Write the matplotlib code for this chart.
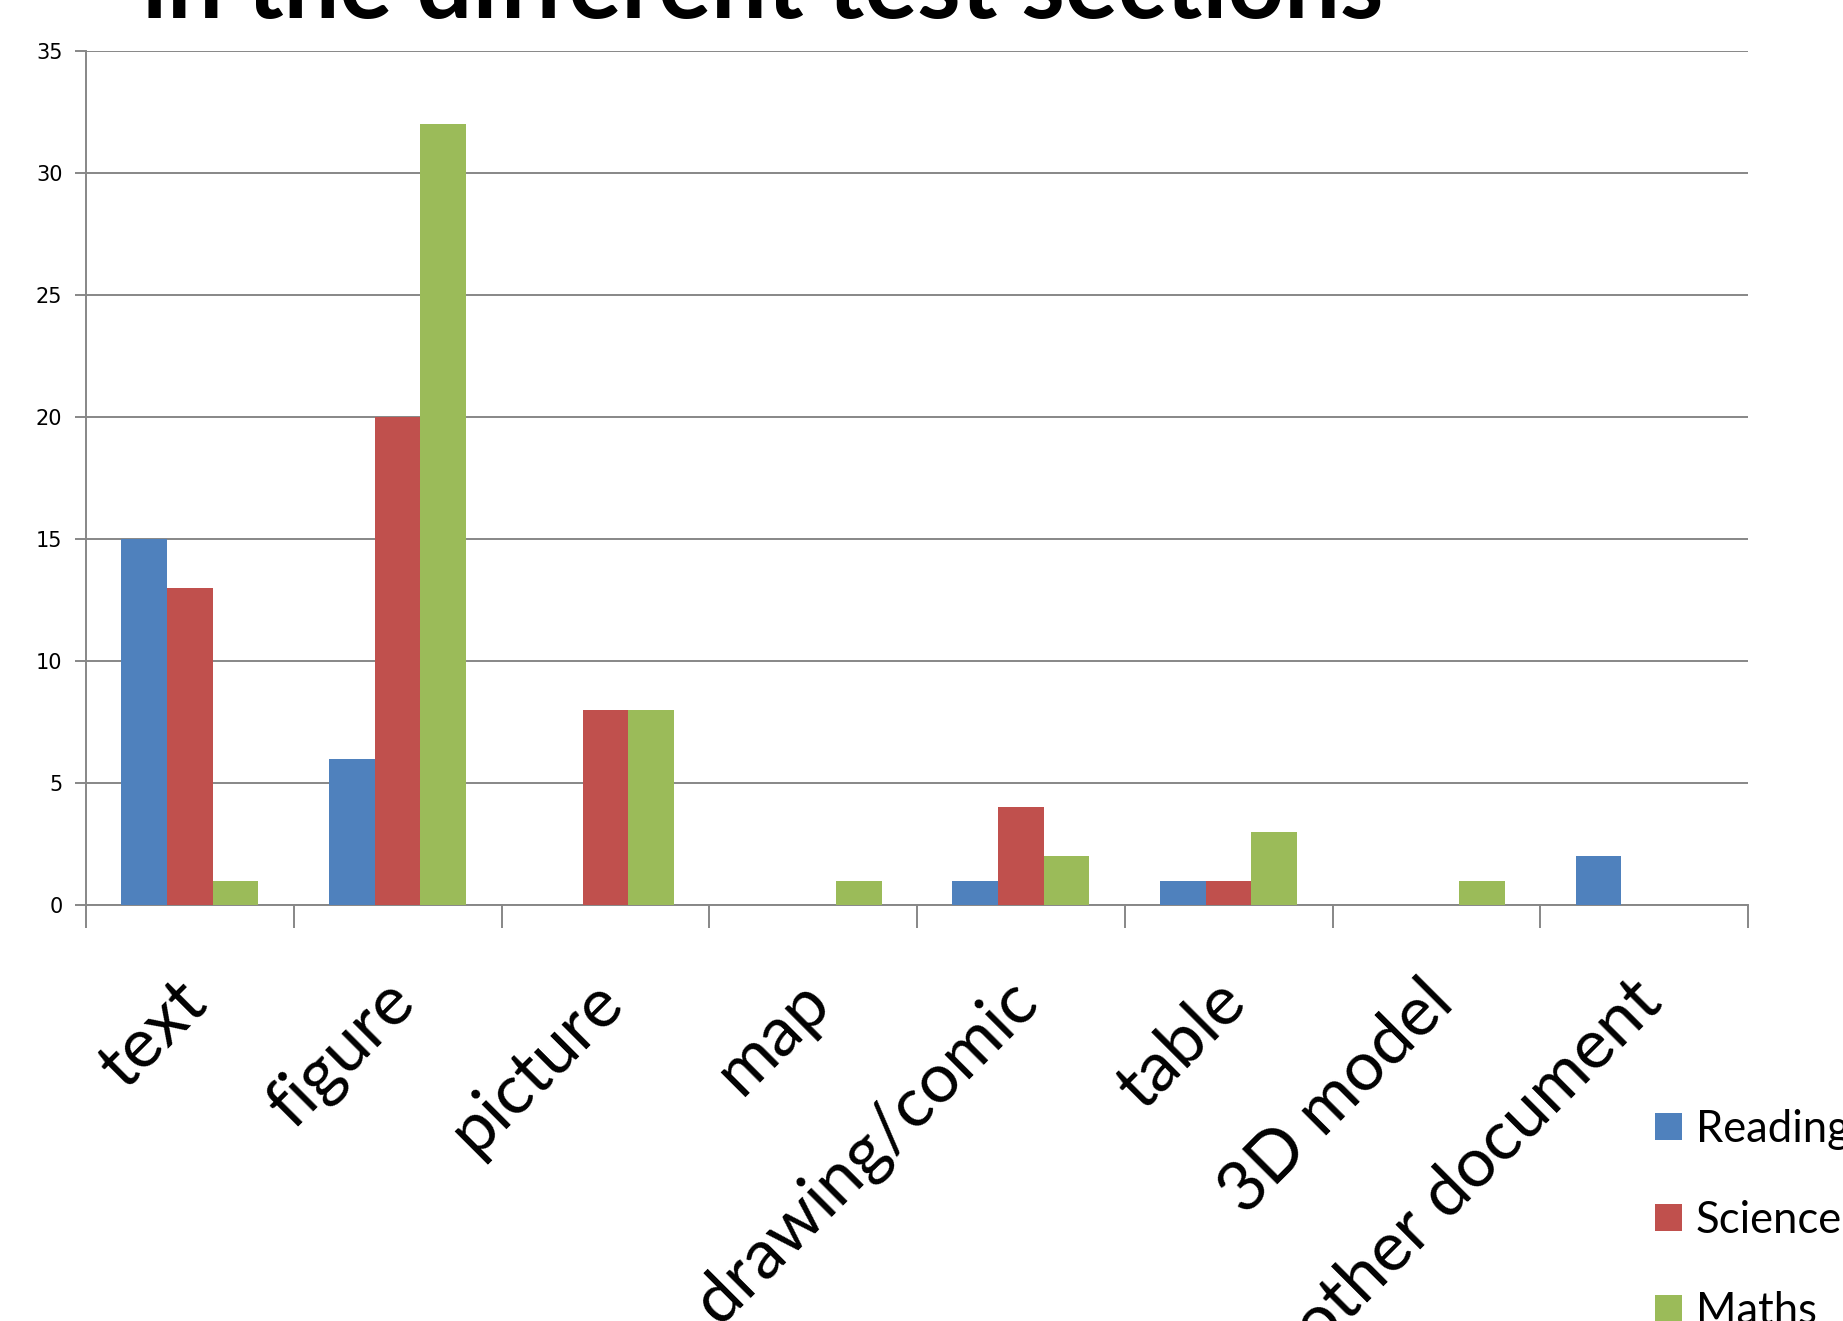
import numpy as np
import matplotlib
matplotlib.use("Agg")
import matplotlib.pyplot as plt
from matplotlib.patches import Rectangle
from matplotlib.transforms import ScaledTranslation

# ---- data ----
categories = ["text", "figure", "picture", "map", "drawing/comic", "table",
              "3D model", "other document"]
series_names = ["Reading", "Science", "Maths"]
reading = [15, 6, 0, 0, 1, 1, 0, 2]
science = [13, 20, 8, 0, 4, 1, 0, 0]
maths = [1, 32, 8, 1, 2, 3, 1, 0]
yticks = [0, 5, 10, 15, 20, 25, 30, 35]
title_text = "in the different test sections"

colors = ["#4F81BD", "#C0504D", "#9BBB59"]
GRAY = "#878787"
W, H = 1843, 1321
DPI = 100

fig = plt.figure(figsize=(W / DPI, H / DPI), dpi=DPI)
renderer = fig.canvas.get_renderer()
FONT = "Lato"


def fit_size(text, target_px, family, weight="normal"):
    t = fig.text(0, 0, text, fontsize=50, family=family, weight=weight)
    w = t.get_window_extent(renderer).width
    t.remove()
    return 50.0 * target_px / w


def fx(px):
    return px / W


def fy(py_from_top):
    return 1 - py_from_top / H


left, right, top, bottom = 86, 1748, 51, 905
ax = fig.add_axes([fx(left), fy(bottom), fx(right - left), (bottom - top) / H])

x = np.arange(len(categories))
bw = 0.22
for i, (vals, name) in enumerate(zip([reading, science, maths], series_names)):
    ax.bar(x + (i - 1) * bw, vals, width=bw, color=colors[i], label=name,
           zorder=3, linewidth=0)

ax.set_xlim(-0.5, len(categories) - 0.5)
ax.set_ylim(0, 35)
ax.set_yticks(yticks)
ax.set_yticklabels([str(v) for v in yticks], family="DejaVu Sans", fontsize=15)
ax.yaxis.grid(True, color=GRAY, linewidth=1.4, zorder=0)
ax.set_axisbelow(True)
for s in ["top", "right"]:
    ax.spines[s].set_visible(False)
for s in ["left", "bottom"]:
    ax.spines[s].set_color(GRAY)
    ax.spines[s].set_linewidth(1.4)
ax.tick_params(axis="y", length=8, width=1.4, color=GRAY, pad=9)

xfs = fit_size("drawing/comic", 455, FONT)
ax.set_xticks(x)
ax.set_xticklabels(categories, rotation=45, ha="right", va="baseline",
                   rotation_mode="anchor", fontsize=xfs, family=FONT)
ax.set_xticks(np.arange(-0.5, len(categories), 1), minor=True)
ax.tick_params(axis="x", which="major", length=0, pad=100 * 72 / DPI)
ax.tick_params(axis="x", which="minor", length=16.5, width=1.4, color=GRAY,
               direction="out")
off = ScaledTranslation(20 / DPI, 0, fig.dpi_scale_trans)
for lab in ax.get_xticklabels():
    lab.set_transform(lab.get_transform() + off)

# title (cut off at top, as in the reference)
tfs = fit_size(title_text, 1245, FONT, weight="bold")
fig.text(fx(142), fy(18), title_text, fontsize=tfs, family=FONT,
         weight="bold", ha="left", va="baseline")

# legend
lfs = fit_size("Science", 146, FONT)
for i, name in enumerate(series_names):
    y_top = 1113 + 91 * i
    fig.add_artist(Rectangle((fx(1655), fy(y_top + 27)), fx(27), 27 / H,
                             transform=fig.transFigure, color=colors[i],
                             linewidth=0))
    fig.text(fx(1696), fy(y_top + 29), name, fontsize=lfs, family=FONT,
             ha="left", va="baseline")

fig.savefig("out.png", dpi=DPI)
